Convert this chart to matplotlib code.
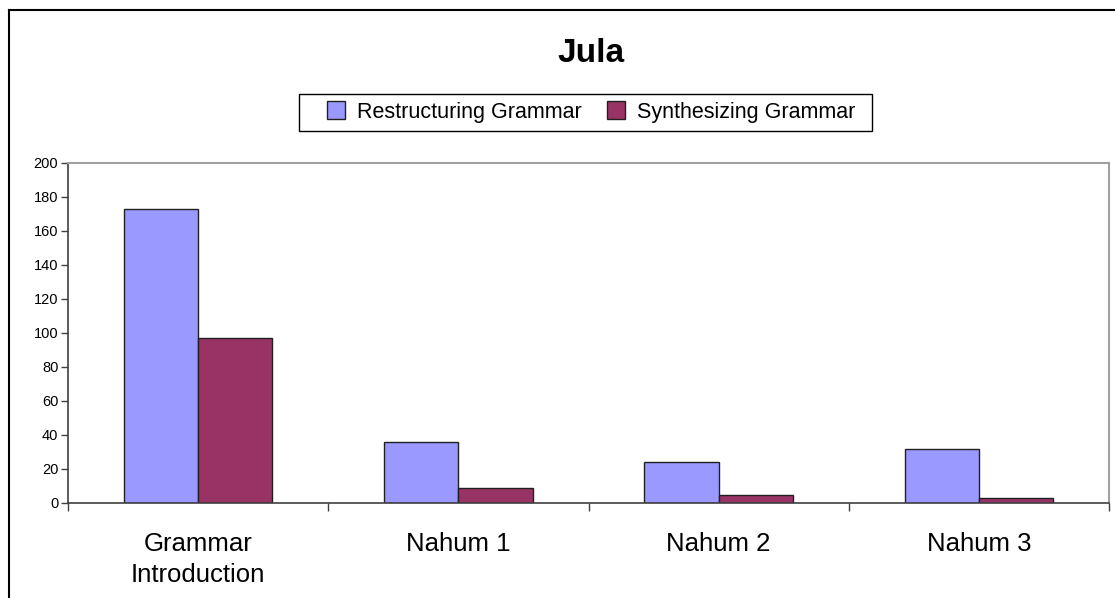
import matplotlib
matplotlib.use("Agg")
import matplotlib.pyplot as plt
from matplotlib.patches import Patch, Rectangle
from matplotlib.lines import Line2D
import numpy as np

categories = ["Grammar\nIntroduction", "Nahum 1", "Nahum 2", "Nahum 3"]
restructuring = [173, 36, 24, 32]
synthesizing = [97, 9, 5, 3]
series_names = ["Restructuring Grammar", "Synthesizing Grammar"]
title = "Jula"
y_ticks = [0, 20, 40, 60, 80, 100, 120, 140, 160, 180, 200]

plt.rcParams['font.family'] = ['Liberation Sans', 'DejaVu Sans']

W, H = 1115, 598
fig = plt.figure(figsize=(W / 100, H / 100), dpi=100)
fig.patch.set_facecolor('white')

ax = fig.add_axes([68 / W, 1 - 503 / H, (1109 - 68) / W, (503 - 163) / H])

x = np.arange(len(categories))
bw = 0.285
c1, c2 = '#9999FF', '#993366'
ax.bar(x - bw / 2, restructuring, bw, color=c1, edgecolor='#202020', linewidth=1.0)
ax.bar(x + bw / 2, synthesizing, bw, color=c2, edgecolor='#202020', linewidth=1.0)

ax.set_xlim(-0.5, len(categories) - 0.5)
ax.set_ylim(0, 200)
ax.set_yticks(y_ticks)
ax.set_yticklabels([str(v) for v in y_ticks], fontsize=10.5)
ax.tick_params(axis='y', direction='out', length=5, width=1, pad=2, color='#404040')

ax.set_xticks(x)
ax.set_xticklabels(categories, fontsize=18.5, linespacing=1.35)
ax.tick_params(axis='x', which='major', length=0, pad=21)
ax.set_xticks(np.arange(-0.5, len(categories)), minor=True)
ax.tick_params(axis='x', which='minor', direction='out', length=6, width=1, color='#404040')

for s in ['left', 'bottom']:
    ax.spines[s].set_color('#404040')
    ax.spines[s].set_linewidth(1.2)
for s in ['top', 'right']:
    ax.spines[s].set_color('#a0a0a0')
    ax.spines[s].set_linewidth(1.5)

fig.text(591 / W, 1 - 53 / H, title, ha='center', va='center', fontsize=24, fontweight='bold')

handles = [Patch(facecolor=c1, edgecolor='#202020', linewidth=1.0),
           Patch(facecolor=c2, edgecolor='#202020', linewidth=1.0)]
leg = fig.legend(handles, series_names, loc='center', bbox_to_anchor=(591 / W, 1 - 112 / H),
                 ncol=2, fontsize=15.5, frameon=False,
                 handlelength=0.85, handleheight=0.85, handletextpad=0.55,
                 columnspacing=1.15, borderpad=0.3, borderaxespad=0)

# legend box
fig.add_artist(Rectangle((299 / W, 1 - 131 / H), (872 - 299) / W, (131 - 94) / H,
                         transform=fig.transFigure, facecolor='none', edgecolor='black',
                         linewidth=1.0, zorder=0))

# outer chart frame (top and left edges visible)
fig.add_artist(Line2D([9 / W, 1.0], [1 - 10 / H, 1 - 10 / H], transform=fig.transFigure,
                      color='black', linewidth=1.5))
fig.add_artist(Line2D([9 / W, 9 / W], [0, 1 - 10 / H], transform=fig.transFigure,
                      color='black', linewidth=1.5))

fig.savefig('out.png', dpi=100, facecolor='white')
